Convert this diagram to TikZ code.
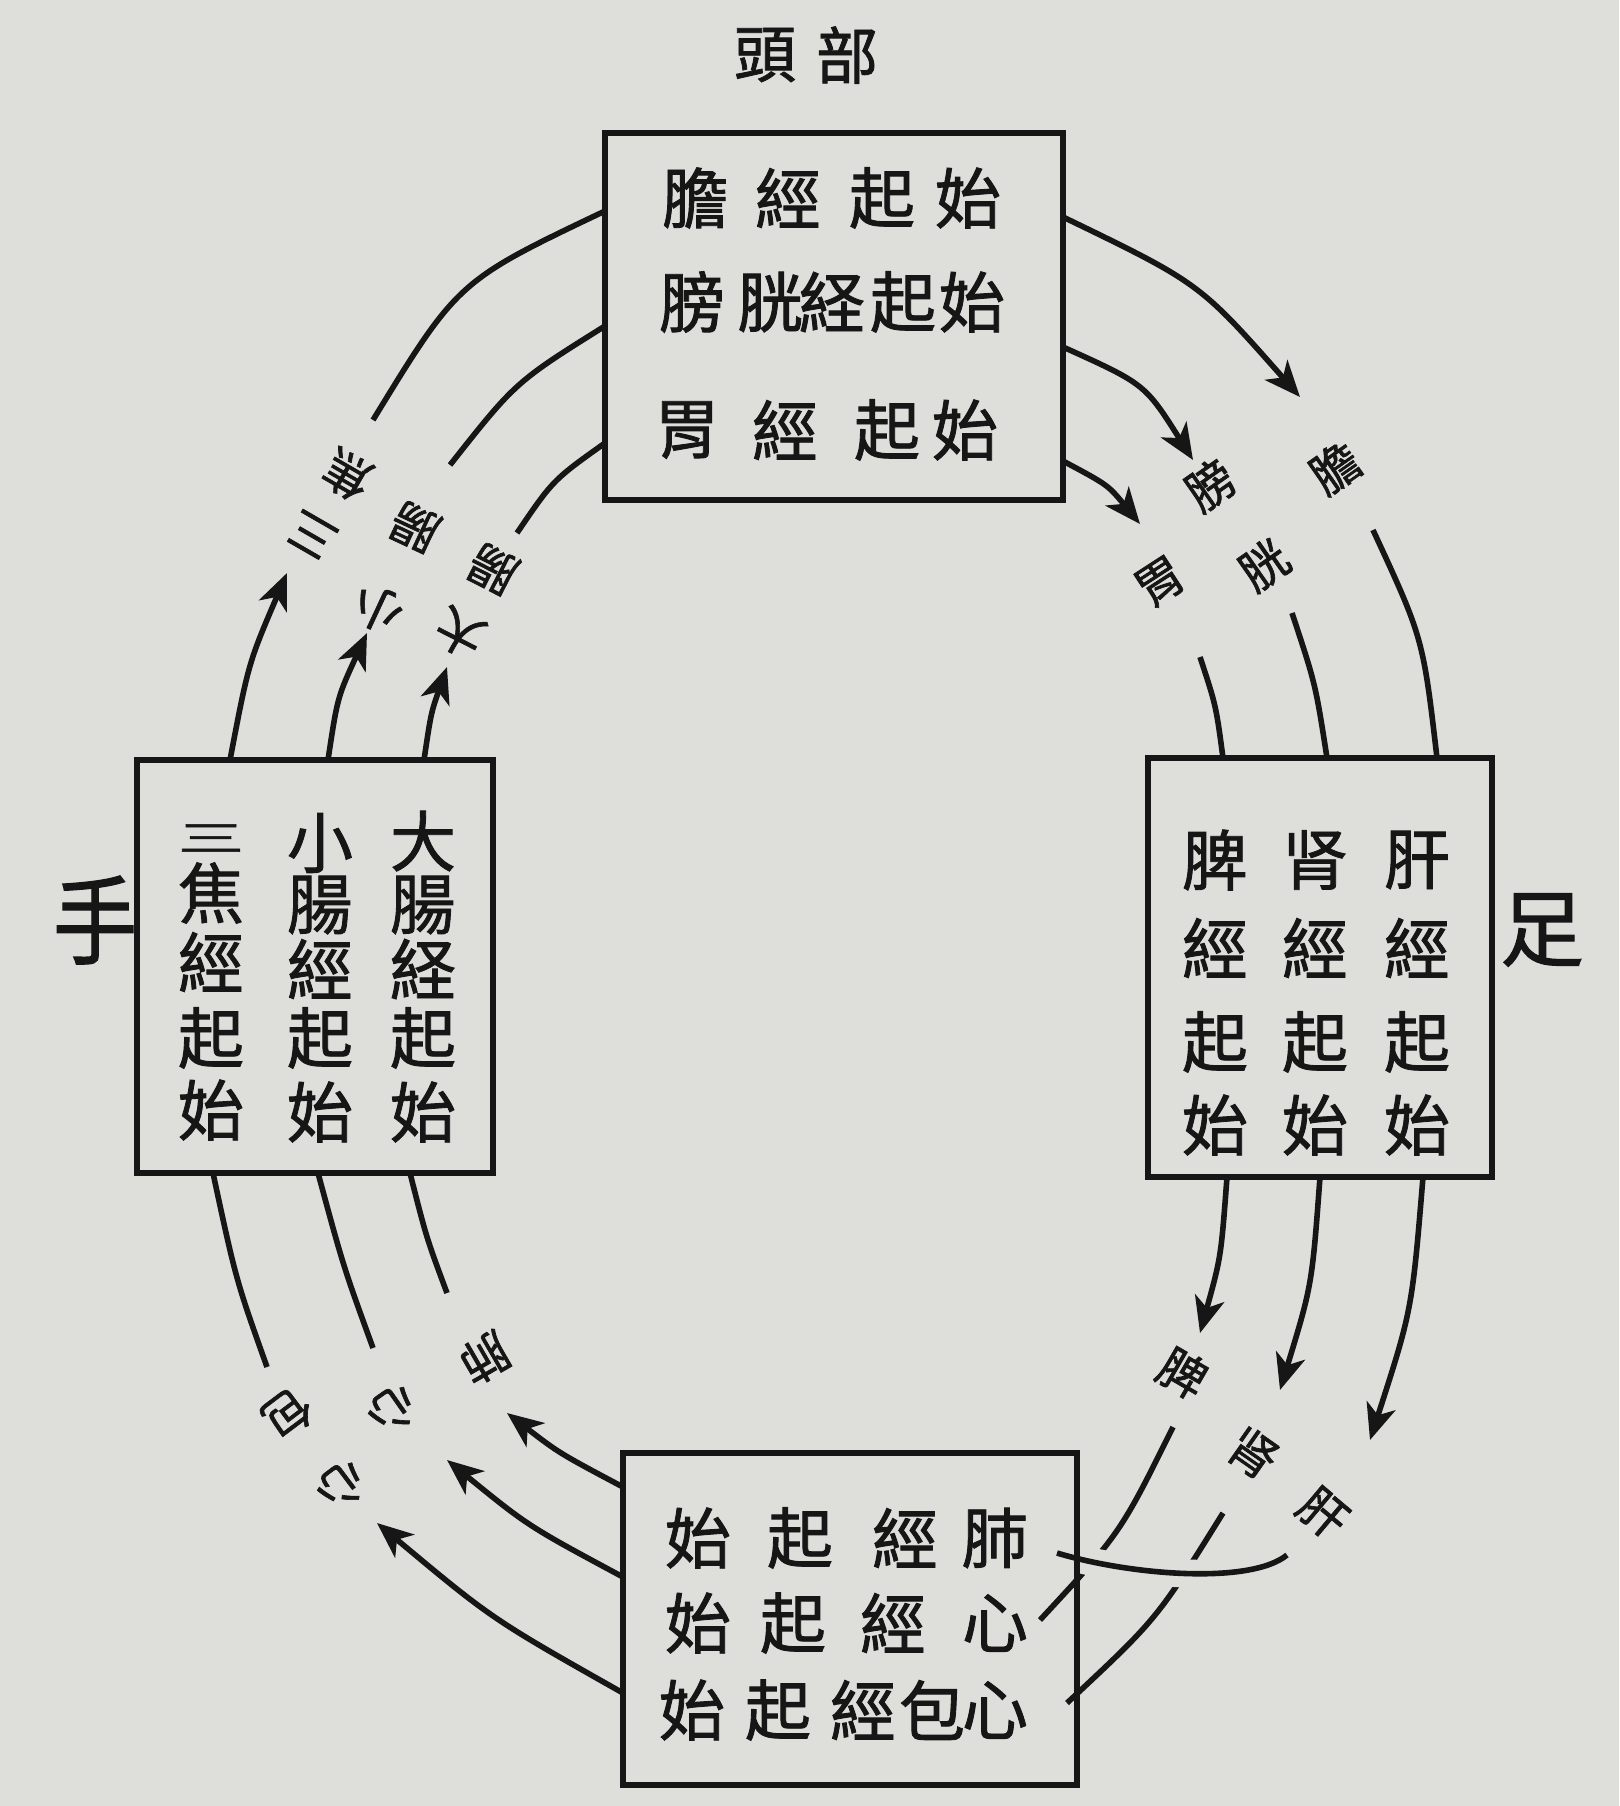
\documentclass[tikz,border=0pt]{standalone}
\usepackage{fontspec}
\newfontfamily\cjk{Noto Sans CJK TC}[FakeBold=1.3]
\usetikzlibrary{arrows.meta,calc}
\definecolor{paper}{RGB}{222,222,219}
\definecolor{ink}{RGB}{22,22,22}
\begin{document}
\begin{tikzpicture}[x=0.5pt,y=-0.5pt,
  box/.style={draw=ink,line width=3.2pt,inner sep=0pt,outer sep=0pt},
  conn/.style={draw=ink,line width=2.8pt},
  arr/.style={conn,-{Stealth[length=18pt,width=15pt,inset=5pt]}},
  bt/.style={font=\cjk\fontsize{33pt}{33pt}\selectfont,text=ink,inner sep=0pt},
  lab/.style={font=\cjk\fontsize{24pt}{24pt}\selectfont,text=ink,inner sep=0pt},
  big/.style={font=\cjk\fontsize{42pt}{42pt}\selectfont,text=ink,inner sep=0pt}]
\fill[paper] (0,0) rectangle (1619,1806);
\useasboundingbox (0,0) rectangle (1619,1806);

% boxes (shapes only, outlines drawn later on top)
\path (834,316.5) node[box,draw=none,minimum width=229pt,minimum height=183.5pt] (top) {};
\path (315,966.5) node[box,draw=none,minimum width=178pt,minimum height=206.5pt] (left) {};
\path (1320,967.5) node[box,draw=none,minimum width=172pt,minimum height=209.5pt] (right) {};
\path (850,1619) node[box,draw=none,minimum width=227pt,minimum height=166pt] (bot) {};

% coordinates
\coordinate (tr1s) at (top.east |- 0,217);  \coordinate (tr1e) at (1300,397);
\coordinate (tr2s) at (top.east |- 0,347);  \coordinate (tr2e) at (1193,460);
\coordinate (tr3s) at (top.east |- 0,461);  \coordinate (tr3e) at (1140,524);
\coordinate (tr1t) at (1373,530); \coordinate (tr1f) at (right.north -| 1437,0);
\coordinate (tr2t) at (1292,613); \coordinate (tr2f) at (right.north -| 1327,0);
\coordinate (tr3t) at (1200,657); \coordinate (tr3f) at (right.north -| 1223,0);

\coordinate (rb1s) at (right.south -| 1227,0); \coordinate (rb1e) at (1200,1333);
\coordinate (rb2s) at (right.south -| 1320,0); \coordinate (rb2e) at (1280,1390);
\coordinate (rb3s) at (right.south -| 1423,0); \coordinate (rb3e) at (1370,1440);
\coordinate (rb1t) at (1173,1427); \coordinate (rb1f) at (1040,1620);
\coordinate (rb2t) at (1223,1513); \coordinate (rb2f) at (1067,1703);
\coordinate (rb3t) at (1287,1555); \coordinate (rb3f) at (1057,1553);

\coordinate (ll1s) at (bot.west |- 0,1487); \coordinate (ll1e) at (507,1413);
\coordinate (ll2s) at (bot.west |- 0,1577); \coordinate (ll2e) at (447,1460);
\coordinate (ll3s) at (bot.west |- 0,1693); \coordinate (ll3e) at (377,1523);
\coordinate (ll1t) at (447,1293); \coordinate (ll1f) at (left.south -| 410,0);
\coordinate (ll2t) at (373,1348); \coordinate (ll2f) at (left.south -| 318,0);
\coordinate (ll3t) at (267,1367); \coordinate (ll3f) at (left.south -| 213,0);

\coordinate (ul1s) at (left.north -| 230,0); \coordinate (ul1e) at (287,573);
\coordinate (ul2s) at (left.north -| 328,0); \coordinate (ul2e) at (367,633);
\coordinate (ul3s) at (left.north -| 424,0); \coordinate (ul3e) at (447,667);
\coordinate (ul1t) at (373,420); \coordinate (ul1f) at (top.west |- 0,211);
\coordinate (ul2t) at (450,465); \coordinate (ul2f) at (top.west |- 0,326);
\coordinate (ul3t) at (517,533); \coordinate (ul3f) at (top.west |- 0,443);

% top -> right
\draw[arr] (tr1s) .. controls (1199.5,283) .. (tr1e);
\draw[arr] (tr2s) .. controls (1145,384) .. (tr2e);
\draw[arr] (tr3s) .. controls (1108,485) .. (tr3e);
\draw[conn] (tr1t) .. controls (1423,638) .. (tr1f);
\draw[conn] (tr2t) .. controls (1315.5,684) .. (tr2f);
\draw[conn] (tr3t) .. controls (1216,705.5) .. (tr3f);

% right -> bottom
\draw[arr] (rb1s) .. controls (1221,1257) .. (rb1e);
\draw[arr] (rb2s) .. controls (1312,1285) .. (rb2e);
\draw[arr] (rb3s) .. controls (1412,1310) .. (rb3e);
\draw[conn] (rb1t) .. controls (1120.5,1533) .. (rb1f);
\draw[conn] (rb2t) .. controls (1157,1619) .. (rb2f);
\draw[conn,preaction={draw=paper,line width=14pt}] (rb3t) .. controls (1250,1585) and (1130,1575) .. (rb3f);

% bottom -> left
\draw[arr] (ll1s) .. controls (559,1453) .. (ll1e);
\draw[arr] (ll2s) .. controls (528,1526) .. (ll2e);
\draw[arr] (ll3s) .. controls (492,1619) .. (ll3e);
\draw[conn] (ll1t) .. controls (426.5,1238) .. (ll1f);
\draw[conn] (ll2t) .. controls (343.5,1267) .. (ll2f);
\draw[conn] (ll3t) .. controls (236,1280) .. (ll3f);

% left -> top
\draw[arr] (ul1s) .. controls (248.5,663) .. (ul1e);
\draw[arr] (ul2s) .. controls (337.5,697) .. (ul2e);
\draw[arr] (ul3s) .. controls (431,713) .. (ul3e);
\draw[conn] (ul1t) .. controls (458,281) .. (ul1f);
\draw[conn] (ul2t) .. controls (515.5,382) .. (ul2f);
\draw[conn] (ul3t) .. controls (553,480) .. (ul3f);

% box outlines
\draw[box] (top.north west) rectangle (top.south east);
\draw[box] (left.north west) rectangle (left.south east);
\draw[box] (right.north west) rectangle (right.south east);
\draw[box] (bot.north west) rectangle (bot.south east);

% outer labels
\node[bt,font=\cjk\fontsize{31pt}{31pt}\selectfont] (head1) at (765,55) {頭};
\node[bt,font=\cjk\fontsize{31pt}{31pt}\selectfont] (head2) at (847,55) {部};
\node[big,transform shape,yscale=1.15] (hand) at (95,920) {手};
\node[big] (foot) at (1542,930) {足};

% top box text
\foreach \c/\x [count=\i] in {膽/695,經/788,起/882,始/968} \node[bt] (ta\i) at (\x,198) {\c};
\foreach \c/\x [count=\i] in {膀/692,胱/770,経/832,起/903,始/972} \node[bt] (tb\i) at (\x,302) {\c};
\foreach \c/\x [count=\i] in {胃/687,經/785,起/887,始/965} \node[bt] (tc\i) at (\x,430) {\c};

% left box text (vertical columns)
\node[bt,transform shape,yscale=0.55] (la1) at (211,838) {三};
\foreach \c/\y [count=\i from 2] in {焦/893,經/962,起/1038,始/1110} \node[bt] (la\i) at (211,\y) {\c};
\foreach \c/\y [count=\i] in {小/843,腸/905,經/969,起/1038,始/1112} \node[bt] (lb\i) at (320,\y) {\c};
\foreach \c/\y [count=\i] in {大/841,腸/905,経/969,起/1038,始/1112} \node[bt] (lc\i) at (423,\y) {\c};

% right box text (vertical columns)
\foreach \c/\y [count=\i] in {脾/860,經/948,起/1042,始/1125} \node[bt] (ra\i) at (1215,\y) {\c};
\foreach \c/\y [count=\i] in {肾/860,經/948,起/1042,始/1125} \node[bt] (rb\i) at (1315,\y) {\c};
\foreach \c/\y [count=\i] in {肝/860,經/948,起/1042,始/1125} \node[bt] (rc\i) at (1417,\y) {\c};

% bottom box text
\foreach \c/\x [count=\i] in {始/698,起/800,經/905,肺/995} \node[bt] (ba\i) at (\x,1538) {\c};
\foreach \c/\x [count=\i] in {始/698,起/793,經/893,心/995} \node[bt] (bb\i) at (\x,1623) {\c};
\foreach \c/\x [count=\i] in {始/692,起/778,經/863,包/932,心/995} \node[bt] (bc\i) at (\x,1710) {\c};

% arc labels: top-right
\node[lab,rotate=35] (trl1) at (1335,468) {膽};
\node[lab,rotate=35] (trl2a) at (1210,485) {膀};
\node[lab,rotate=35] (trl2b) at (1264,565) {胱};
\node[lab,rotate=33] (trl3) at (1160,582) {胃};
% bottom-right
\node[lab,rotate=-30] (rbl1) at (1183,1373) {脾};
\node[lab,rotate=-35] (rbl2) at (1253,1453) {肾};
\node[lab,rotate=-40] (rbl3) at (1323,1513) {肝};
% bottom-left
\node[lab,rotate=-150] (lll1) at (485,1358) {肺};
\node[lab,rotate=-145] (lll2) at (393,1410) {心};
\node[lab,rotate=-143] (lll3a) at (342,1486) {心};
\node[lab,rotate=-143] (lll3b) at (288,1414) {包};
% top-left
\node[lab,rotate=153] (ull3a) at (460,633) {大};
\node[lab,rotate=153] (ull3b) at (493,569) {腸};
\node[lab,rotate=155] (ull2a) at (378,609) {小};
\node[lab,rotate=155] (ull2b) at (415,527) {腸};
\node[lab,rotate=150] (ull1a) at (312,535) {三};
\node[lab,rotate=150] (ull1b) at (347,475) {焦};
\end{tikzpicture}
\end{document}
